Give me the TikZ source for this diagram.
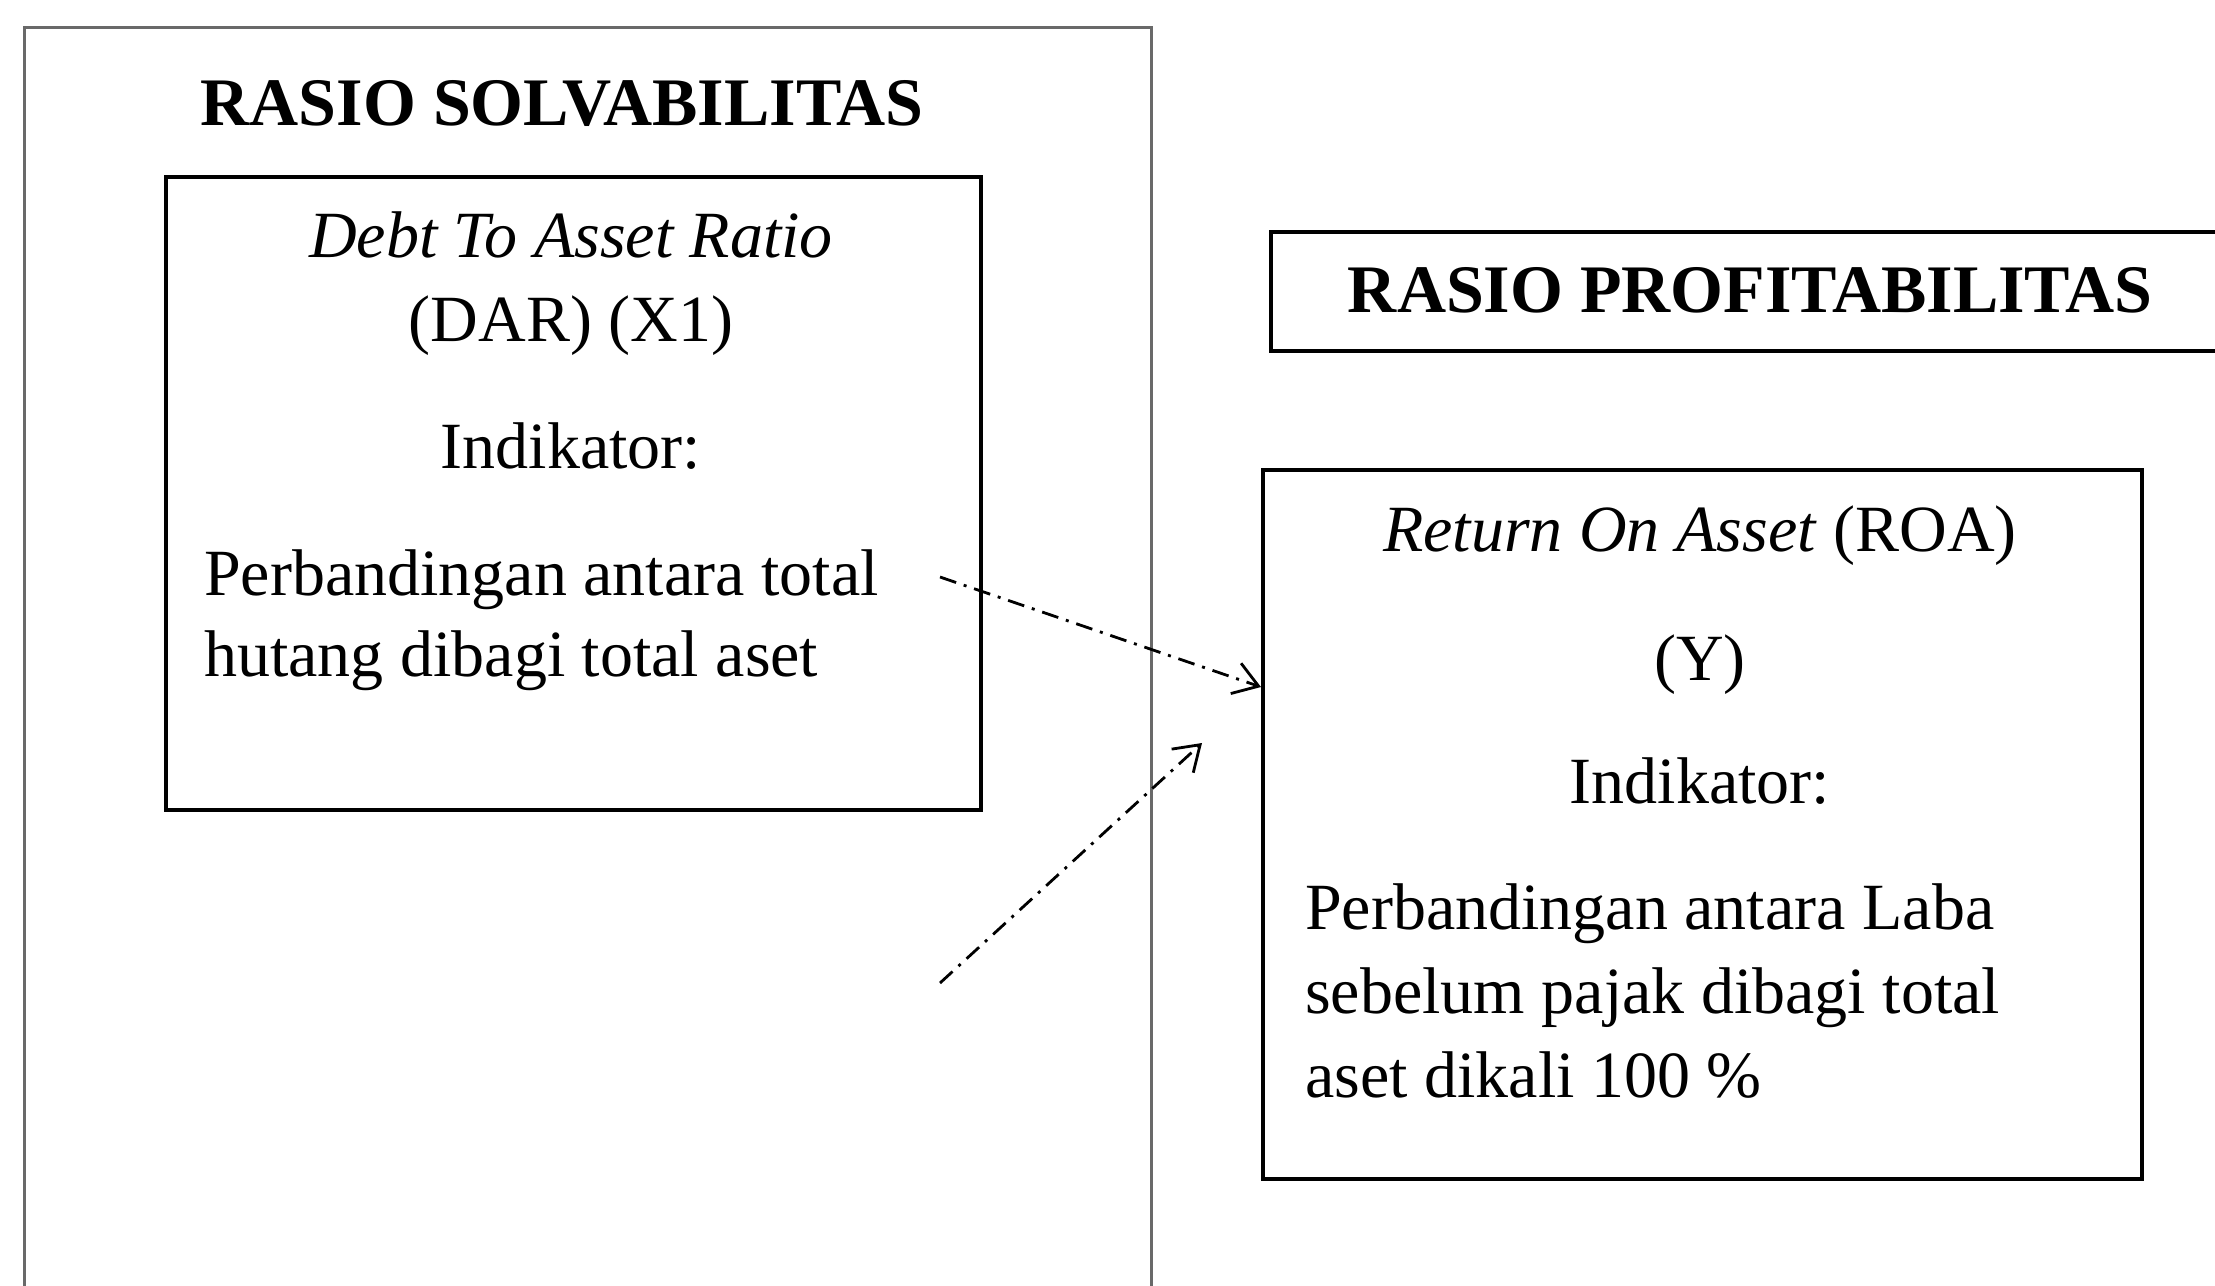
\documentclass[tikz,border=0pt]{standalone}
\usepackage{fontspec}
\setmainfont{Liberation Serif}
\usetikzlibrary{arrows.meta}
\definecolor{outergray}{RGB}{105,105,105}
\begin{document}
\begin{tikzpicture}[x=1pt,y=-1pt,
  txt/.style={font=\fontsize{66}{80}\selectfont, inner sep=0pt, text=black},
  ctr/.style={txt, anchor=base},
  lft/.style={txt, anchor=base west},
  ttl/.style={txt, anchor=base, font=\fontsize{68}{80}\selectfont\bfseries},
  outerbox/.style={draw=outergray, line width=3pt, rectangle, inner sep=0pt, anchor=north west},
  innerbox/.style={draw=black, line width=4pt, rectangle, inner sep=0pt, anchor=north west},
  conn/.style={draw=black, line width=2.8pt, dash pattern=on 17pt off 8pt on 3pt off 8pt,
    -{Straight Barb[length=24pt, width=32pt, line width=2.8pt]}}
]
\useasboundingbox (0,0) rectangle (2215,1285);
\fill[white] (0,0) rectangle (2215,1285);
\clip (0,0) rectangle (2215,1285);

% boxes
\node[outerbox, minimum width=1127pt, minimum height=1320pt] (solv) at (23,26) {};
\node[innerbox, minimum width=815pt, minimum height=633pt] (dar) at (164,175) {};
\node[innerbox, minimum width=980pt, minimum height=119pt] (prof) at (1269,230) {};
\node[innerbox, minimum width=879pt, minimum height=709pt] (roa) at (1261,468) {};

% left texts
\node[ttl] (t1) at (562,125) {RASIO SOLVABILITAS};
\node[ctr] (d1) at (571,257) {\textit{Debt To Asset Ratio}};
\node[ctr] (d2) at (571,341) {(DAR) (X1)};
\node[ctr] (d3) at (571,468) {Indikator:};
\node[lft] (d4) at (204,595) {Perbandingan antara total};
\node[lft] (d5) at (204,676) {hutang dibagi total aset};

% right texts
\node[ttl] (t2) at (1750,312) {RASIO PROFITABILITAS};
\node[ctr] (r1) at (1700,551) {\textit{Return On Asset} (ROA)};
\node[ctr] (r2) at (1700,680) {(Y)};
\node[ctr] (r3) at (1700,803) {Indikator:};
\node[lft] (r4) at (1305,929) {Perbandingan antara Laba};
\node[lft] (r5) at (1305,1013) {sebelum pajak dibagi total};
\node[lft] (r6) at (1305,1097) {aset dikali 100 \%};

% connectors
\coordinate (a1s) at (940,577);
\coordinate (a2s) at (940,983);
\coordinate (a2e) at (1202,743);
\draw[conn] (a1s) -- ([yshift=-219pt]roa.north west);
\draw[conn] (a2s) -- (a2e);
\end{tikzpicture}
\end{document}
